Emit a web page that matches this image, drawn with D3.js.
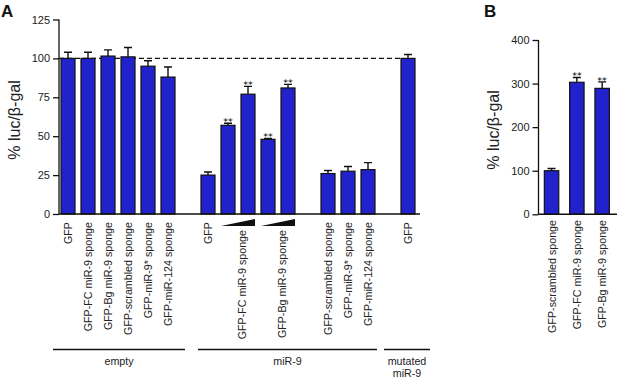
<!DOCTYPE html>
<html>
<head>
<meta charset="utf-8">
<script src="https://cdn.jsdelivr.net/npm/d3@7"></script>
<style>
  body { margin: 0; background: #fff; }
</style>
</head>
<body>
<svg id="chart" width="617" height="378" style="font-family: 'Liberation Sans', Arial, sans-serif"></svg>
<script>
// Panel A data (empty slots keep the gaps between groups)
const slotsA = ["e1","e2","e3","e4","e5","e6","gap1","m1","m2","m3","m4","m5","gap2","m6","m7","m8","gap3","u1"];
const namesA = ["GFP","GFP-FC miR-9 sponge","GFP-Bg miR-9 sponge","GFP-scrambled sponge","GFP-miR-9* sponge","GFP-miR-124 sponge",
  "","GFP","","","","","","GFP-scrambled sponge","GFP-miR-9* sponge","GFP-miR-124 sponge","","GFP"];
const valuesA = [100, 100, 101.5, 101, 95, 88, null, 25, 57, 77, 48, 81, null, 26, 27.5, 28.5, null, 100];
const errorsA = [104, 104, 105.5, 107, 98.5, 94.5, null, 27, 58.3, 82, 48.6, 83.3, null, 28, 30.5, 33, null, 102.5];
const starsA  = ["", "", "", "", "", "", "", "", "**", "**", "**", "**", "", "", "", "", "", ""];
const ticksA = [0, 25, 50, 75, 100, 125];
const groupsA = [
  {label: ["empty"], from: "e1", to: "e6", padL: 8, padR: 10},
  {label: ["miR-9"], from: "m1", to: "m8", padL: 3, padR: 2},
  {label: ["mutated", "miR-9"], from: "u1", to: "u1", padL: 17, padR: 15}
];
const wedges = [["m2","m3","GFP-FC miR-9 sponge"], ["m4","m5","GFP-Bg miR-9 sponge"]];

// Panel B data
const namesB = ["GFP-scrambled sponge","GFP-FC miR-9 sponge","GFP-Bg miR-9 sponge"];
const valuesB = [100, 303, 289];
const errorsB = [105, 314, 304];
const starsB = ["", "**", "**"];
const ticksB = [0, 100, 200, 300, 400];

const barFill = "#2222cc";
const ink = "#111";
const svg = d3.select("#chart");

// ---------- Panel A ----------
const xA = d3.scaleBand().domain(slotsA).range([58, 418]).paddingInner(0.3).paddingOuter(0.15);
const yA = d3.scaleLinear().domain([0, 125]).range([214, 19.5]);

const gA = svg.append("g");

function yAxis(g, y, ticks, top) {
  g.call(d3.axisLeft(y).tickValues(ticks).tickSize(6).tickPadding(3))
    .attr("font-family", null)
    .call(g => g.select(".domain").attr("d", `M0,${y(top)}V${y(0)}`))
    .call(g => g.selectAll("line, path").attr("stroke", ink).attr("stroke-width", 1.3))
    .call(g => g.selectAll("text").attr("font-size", 11).attr("fill", "#222"));
}
gA.append("g").attr("transform", "translate(59,0)").call(yAxis, yA, ticksA, 125);

// dashed 100 % line
gA.append("line")
  .attr("x1", 59).attr("x2", xA("u1"))
  .attr("y1", yA(100)).attr("y2", yA(100))
  .attr("stroke", ink).attr("stroke-width", 1.3).attr("stroke-dasharray", "5,3");

const dataA = slotsA.map((s, i) => ({slot: s, name: namesA[i], v: valuesA[i], e: errorsA[i], star: starsA[i]}))
  .filter(d => d.v !== null);

function drawBars(g, data, x, y, key) {
  // error bars (upward only)
  g.selectAll(".err").data(data).join("path")
    .attr("class", "err")
    .attr("d", d => {
      const cx = x(d[key]) + x.bandwidth() / 2;
      return `M${cx},${y(d.v)}V${y(d.e)}M${cx - 4},${y(d.e)}H${cx + 4}`;
    })
    .attr("stroke", ink).attr("stroke-width", 1.4).attr("fill", "none");

  g.selectAll(".bar").data(data).join("rect")
    .attr("class", "bar")
    .attr("x", d => x(d[key]))
    .attr("y", d => y(d.v))
    .attr("width", x.bandwidth())
    .attr("height", d => y(0) - y(d.v))
    .attr("fill", barFill).attr("stroke", ink).attr("stroke-width", 1.2);

  // significance marks
  g.selectAll(".star").data(data.filter(d => d.star)).join("text")
    .attr("class", "star")
    .attr("x", d => Math.round(x(d[key]) + x.bandwidth() / 2))
    .attr("y", d => Math.round(y(d.e) + 2))
    .attr("text-anchor", "middle")
    .attr("font-size", 9.5)
    .style("font-family", "'DejaVu Sans', sans-serif")
    .attr("fill", "#000")
    .text(d => d.star);
}
drawBars(gA, dataA, xA, yA, "slot");

// x baseline
gA.append("line").attr("x1", 59).attr("x2", 420).attr("y1", yA(0)).attr("y2", yA(0))
  .attr("stroke", ink).attr("stroke-width", 1.4);

// category labels
gA.selectAll(".xl").data(dataA.filter(d => d.name)).join("text")
  .attr("class", "xl")
  .attr("transform", d => `translate(${xA(d.slot) + xA.bandwidth() / 2 + 4},222) rotate(-90)`)
  .attr("text-anchor", "end")
  .attr("font-size", 10.7)
  .attr("fill", "#222")
  .text(d => d.name);

// concentration wedges and their labels
wedges.forEach(([a, b, label]) => {
  const x0 = xA(a), x1 = xA(b) + xA.bandwidth();
  gA.append("path").attr("d", `M${x0},226L${x1},219L${x1},226Z`).attr("fill", ink);
  const mid = (x0 + x1) / 2 + 7.5;
  gA.append("text")
    .attr("transform", `translate(${mid},230) rotate(-90)`)
    .attr("text-anchor", "end")
    .attr("font-size", 10.7)
    .attr("fill", "#222")
    .text(label);
});

// group brackets
groupsA.forEach(gr => {
  const x0 = xA(gr.from) - gr.padL, x1 = xA(gr.to) + xA.bandwidth() + gr.padR;
  gA.append("line").attr("x1", x0).attr("x2", x1).attr("y1", 349.5).attr("y2", 349.5)
    .attr("stroke", ink).attr("stroke-width", 1.3);
  gr.label.forEach((t, j) => {
    gA.append("text").attr("x", (x0 + x1) / 2).attr("y", 364.5 + j * 12.5)
      .attr("text-anchor", "middle").attr("font-size", 10.7).attr("fill", "#222").text(t);
  });
});

gA.append("text").attr("transform", "translate(20,120) rotate(-90)")
  .attr("text-anchor", "middle").attr("font-size", 16).attr("fill", "#222").text("% luc/β-gal");
gA.append("text").attr("x", 1).attr("y", 17).attr("font-size", 17).attr("font-weight", "bold").attr("fill", "#111").text("A");

// ---------- Panel B ----------
const xB = d3.scaleBand().domain(namesB).range([538.9, 614.8]).paddingInner(0.43).paddingOuter(0.215);
const yB = d3.scaleLinear().domain([0, 400]).range([214.3, 40]);
const gB = svg.append("g");

gB.append("g").attr("transform", "translate(538.5,0)").call(yAxis, yB, ticksB, 400);

const dataB = namesB.map((n, i) => ({name: n, v: valuesB[i], e: errorsB[i], star: starsB[i]}));
drawBars(gB, dataB, xB, yB, "name");

gB.append("line").attr("x1", 538.5).attr("x2", 617).attr("y1", yB(0)).attr("y2", yB(0))
  .attr("stroke", ink).attr("stroke-width", 1.4);

gB.selectAll(".xl").data(dataB).join("text")
  .attr("class", "xl")
  .attr("transform", d => `translate(${xB(d.name) + xB.bandwidth() / 2 + 4},220) rotate(-90)`)
  .attr("text-anchor", "end")
  .attr("font-size", 10.7)
  .attr("fill", "#222")
  .text(d => d.name);

gB.append("text").attr("transform", "translate(499,130) rotate(-90)")
  .attr("text-anchor", "middle").attr("font-size", 16).attr("fill", "#222").text("% luc/β-gal");
gB.append("text").attr("x", 484).attr("y", 17).attr("font-size", 17).attr("font-weight", "bold").attr("fill", "#111").text("B");
</script>
</body>
</html>
